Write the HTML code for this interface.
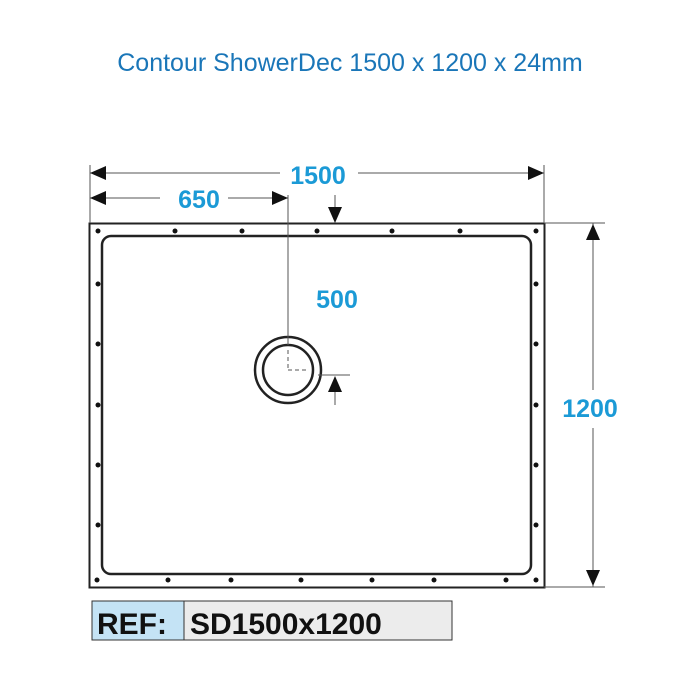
<!DOCTYPE html>
<html><head><style>body{margin:0;background:#fff}svg{display:block}</style></head><body>
<svg width="700" height="700" xmlns="http://www.w3.org/2000/svg" font-family="Liberation Sans, sans-serif">
<rect width="700" height="700" fill="#fff"/>
<text x="350" y="71" text-anchor="middle" font-size="25" fill="#1a76b8">Contour ShowerDec 1500 x 1200 x 24mm</text>
<g stroke="#222" fill="none">
<rect x="89.5" y="223.5" width="455" height="364" stroke-width="2"/>
<rect x="102" y="236" width="429" height="338" rx="9" stroke-width="2.5"/>
<circle cx="288" cy="370" r="33" stroke-width="2.5"/>
<circle cx="288" cy="370" r="25" stroke-width="2.5"/>
<g stroke-width="1" stroke="#555">
<line x1="90" y1="165" x2="90" y2="223"/>
<line x1="544" y1="165" x2="544" y2="223"/>
<line x1="90" y1="173" x2="280" y2="173"/>
<line x1="358" y1="173" x2="544" y2="173"/>
<line x1="90" y1="198" x2="160" y2="198"/>
<line x1="228" y1="198" x2="288" y2="198"/>
<line x1="288" y1="195" x2="288" y2="345"/>
<line x1="288" y1="350" x2="288" y2="370" stroke-dasharray="4,3"/>
<line x1="288" y1="370" x2="308" y2="370" stroke-dasharray="4,3"/>
<line x1="318" y1="375" x2="350" y2="375"/>
<line x1="335" y1="195" x2="335" y2="212"/>
<line x1="335" y1="385" x2="335" y2="405"/>
<line x1="544" y1="223" x2="605" y2="223"/>
<line x1="544" y1="587" x2="605" y2="587"/>
<line x1="593" y1="223" x2="593" y2="390"/>
<line x1="593" y1="428" x2="593" y2="587"/>
</g>
</g>
<g fill="#111">
<polygon points="90,173 106,166 106,180"/>
<polygon points="544,173 528,166 528,180"/>
<polygon points="90,198 106,191 106,205"/>
<polygon points="288,198 272,191 272,205"/>
<polygon points="335,223 328,207 342,207"/>
<polygon points="335,376 328,392 342,392"/>
<polygon points="593,224 586,240 600,240"/>
<polygon points="593,586 586,570 600,570"/>
<g>
<circle cx="98" cy="231" r="2.5"/><circle cx="175" cy="231" r="2.5"/><circle cx="242" cy="231" r="2.5"/><circle cx="317" cy="231" r="2.5"/><circle cx="392" cy="231" r="2.5"/><circle cx="460" cy="231" r="2.5"/><circle cx="536" cy="231" r="2.5"/>
<circle cx="97" cy="580" r="2.5"/><circle cx="168" cy="580" r="2.5"/><circle cx="231" cy="580" r="2.5"/><circle cx="301" cy="580" r="2.5"/><circle cx="372" cy="580" r="2.5"/><circle cx="434" cy="580" r="2.5"/><circle cx="506" cy="580" r="2.5"/><circle cx="536" cy="580" r="2.5"/>
<circle cx="98" cy="284" r="2.5"/><circle cx="98" cy="344" r="2.5"/><circle cx="98" cy="405" r="2.5"/><circle cx="98" cy="465" r="2.5"/><circle cx="98" cy="525" r="2.5"/>
<circle cx="536" cy="284" r="2.5"/><circle cx="536" cy="344" r="2.5"/><circle cx="536" cy="405" r="2.5"/><circle cx="536" cy="465" r="2.5"/><circle cx="536" cy="525" r="2.5"/>
</g>
</g>
<g fill="#1b9ad6" font-size="25" font-weight="bold" text-anchor="middle">
<text x="318" y="184">1500</text>
<text x="199" y="208">650</text>
<text x="337" y="308">500</text>
<text x="590" y="417">1200</text>
</g>
<rect x="92" y="601" width="92" height="39" fill="#c4e3f5" stroke="#333"/>
<rect x="184" y="601" width="268" height="39" fill="#ececec" stroke="#333"/>
<text x="97" y="634" font-size="30" font-weight="bold" fill="#111">REF:</text>
<text x="190" y="634" font-size="30" font-weight="bold" fill="#111">SD1500x1200</text>
</svg>
</body></html>
